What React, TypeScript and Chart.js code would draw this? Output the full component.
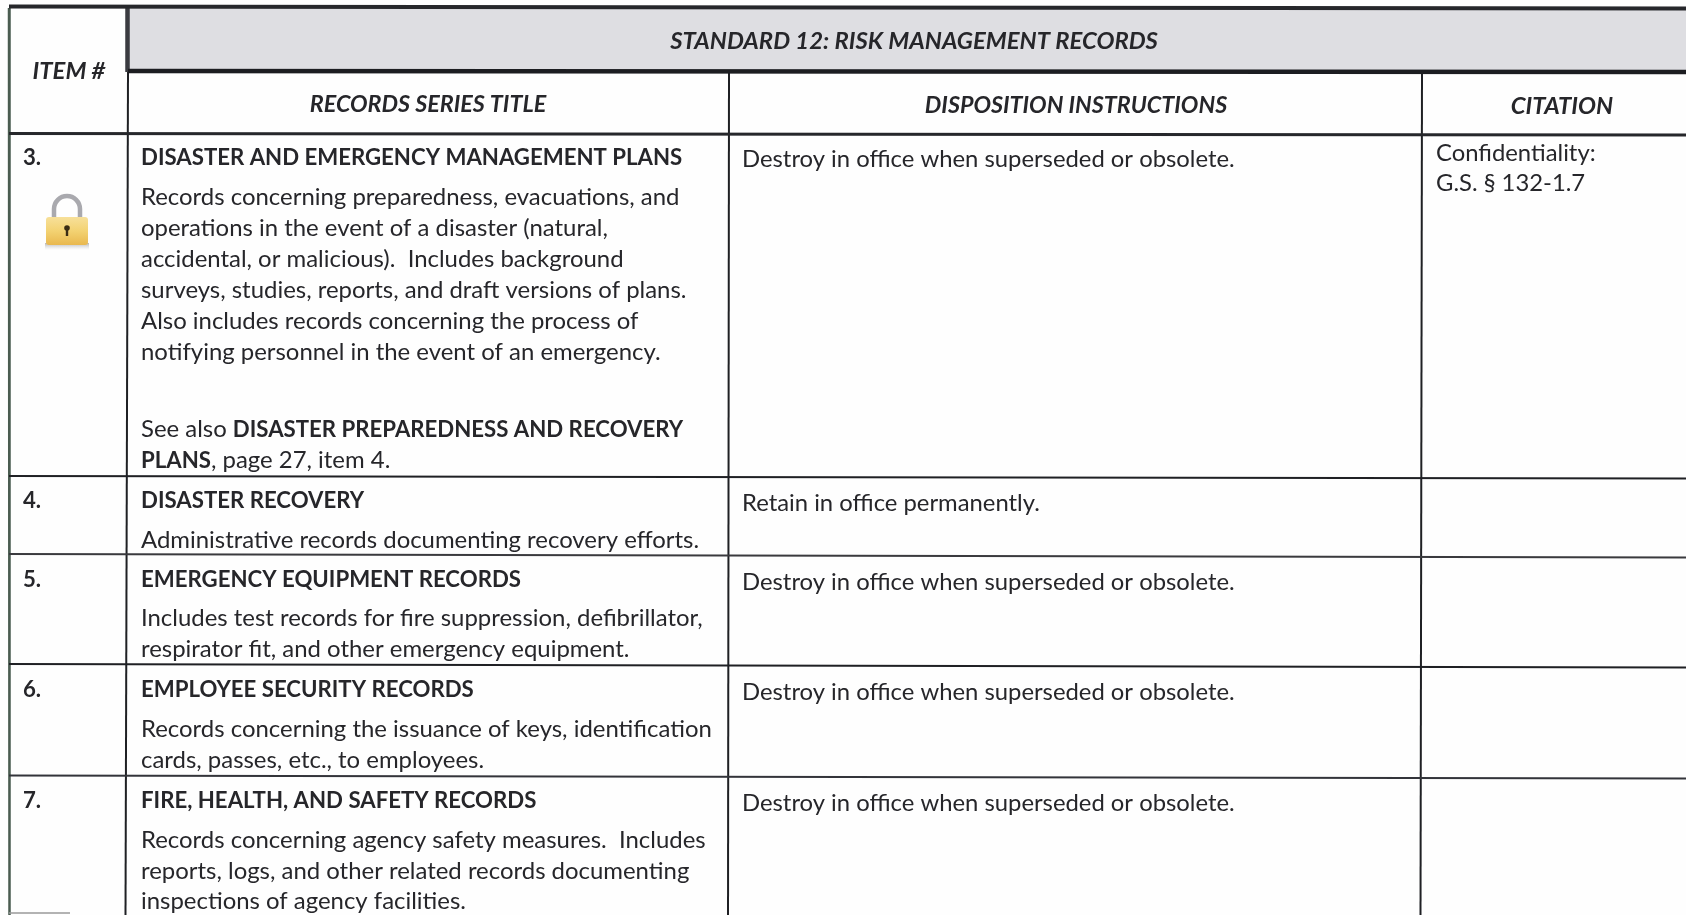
import React, { useEffect, useRef } from "react";
import { Chart, registerables } from "chart.js";

Chart.register(...registerables);

const WIDTH = 1686;
const HEIGHT = 915;

// Table text
const tableTitle = "STANDARD 12: RISK MANAGEMENT RECORDS";
const columnHeaders = ["ITEM #", "RECORDS SERIES TITLE", "DISPOSITION INSTRUCTIONS", "CITATION"];
const itemNumbers = ["3.", "4.", "5.", "6.", "7."];
const recordTitles = [
  "DISASTER AND EMERGENCY MANAGEMENT PLANS",
  "DISASTER RECOVERY",
  "EMERGENCY EQUIPMENT RECORDS",
  "EMPLOYEE SECURITY RECORDS",
  "FIRE, HEALTH, AND SAFETY RECORDS",
];
const recordBodies = [
  [
    "Records concerning preparedness, evacuations, and",
    "operations in the event of a disaster (natural,",
    "accidental, or malicious).  Includes background",
    "surveys, studies, reports, and draft versions of plans.",
    "Also includes records concerning the process of",
    "notifying personnel in the event of an emergency.",
  ],
  ["Administrative records documenting recovery efforts."],
  ["Includes test records for fire suppression, defibrillator,", "respirator fit, and other emergency equipment."],
  ["Records concerning the issuance of keys, identification", "cards, passes, etc., to employees."],
  [
    "Records concerning agency safety measures.  Includes",
    "reports, logs, and other related records documenting",
    "inspections of agency facilities.",
  ],
];
const seeAlsoRuns = [
  { text: "See also ", bold: false },
  { text: "DISASTER PREPAREDNESS AND RECOVERY", bold: true },
];
const seeAlsoRuns2 = [
  { text: "PLANS", bold: true },
  { text: ", page 27, item 4.", bold: false },
];
const dispositions = [
  "Destroy in office when superseded or obsolete.",
  "Retain in office permanently.",
  "Destroy in office when superseded or obsolete.",
  "Destroy in office when superseded or obsolete.",
  "Destroy in office when superseded or obsolete.",
];
const citationLines = ["Confidentiality:", "G.S. § 132-1.7"];

// Table geometry, in the chart's own scale units
const titleBaselines = [165, 508, 587, 697, 808];
const bodyBaselines = [
  [205, 236, 267, 298, 329, 360],
  [548],
  [626, 657],
  [737, 768],
  [848, 879, 909],
];
const seeAlsoBaselines = [437, 468];
const dispositionBaselines = [167, 511, 590, 700, 811];
const citationBaselines = [161, 191];

const ruleColor = "#1f2024";
type Rule = { x: [number, number]; y: [number, number]; w: number; c: string };
const rules: Rule[] = [
  { x: [9, 1686], y: [6.5, 8.5], w: 4, c: "#26272b" },
  { x: [128, 1686], y: [71, 72], w: 4.5, c: "#1c1d21" },
  { x: [9, 1686], y: [133.5, 135], w: 3, c: "#26272b" },
  { x: [9, 1686], y: [476, 478.5], w: 2, c: ruleColor },
  { x: [9, 1686], y: [554, 557.5], w: 2, c: "#3a3a3e" },
  { x: [9, 1686], y: [664, 667.5], w: 2, c: ruleColor },
  { x: [9, 1686], y: [775.5, 778.5], w: 2, c: "#33343a" },
  { x: [9, 70], y: [913, 913], w: 1.5, c: "#9a9a9a" },
  { x: [9, 9.5], y: [8, 915], w: 2.5, c: "#4a5c50" },
  { x: [127.5, 127.5], y: [8, 72], w: 4.5, c: "#3a3b40" },
  { x: [128, 125.5], y: [72, 915], w: 2, c: ruleColor },
  { x: [729, 728], y: [72, 915], w: 2, c: ruleColor },
  { x: [1422, 1420.5], y: [72, 915], w: 2, c: ruleColor },
];

const FAMILY = "Lato";
const BODY_SIZE = 23;
const INK = "#26262a";
const STRETCH_BODY = 1.04;
const STRETCH_RIGHT = 1.036;
const STRETCH_BOLD = 0.965;
const STRETCH_HEAD = 1.038;
const STRETCH_HEAD_NARROW = 1.014;

function drawLine(ctx: CanvasRenderingContext2D, text: string, x: number, y: number, font: string, stretch: number, align: CanvasTextAlign = "left") {
  ctx.save();
  ctx.translate(x, y);
  ctx.scale(stretch, 1);
  ctx.font = font;
  ctx.textAlign = align;
  ctx.textBaseline = "alphabetic";
  ctx.fillStyle = INK;
  ctx.fillText(text, 0, 0);
  ctx.restore();
}

function drawRuns(ctx: CanvasRenderingContext2D, runs: { text: string; bold: boolean }[], x: number, y: number) {
  let cursor = x;
  for (const run of runs) {
    const font = `${run.bold ? "bold " : ""}${BODY_SIZE}px ${FAMILY}`;
    const stretch = run.bold ? STRETCH_BOLD : STRETCH_BODY;
    drawLine(ctx, run.text, cursor, y, font, stretch);
    ctx.font = font;
    cursor += ctx.measureText(run.text).width * stretch;
  }
}

function drawLock(ctx: CanvasRenderingContext2D, X: (v: number) => number, Y: (v: number) => number) {
  const cx = X(67);
  ctx.save();
  const sh = ctx.createLinearGradient(0, Y(243), 0, Y(250));
  sh.addColorStop(0, "rgba(150,150,150,0.7)");
  sh.addColorStop(1, "rgba(200,200,200,0)");
  ctx.fillStyle = sh;
  ctx.fillRect(X(45), Y(243), 44, 7);
  ctx.strokeStyle = "#a9a9ae";
  ctx.lineWidth = 4.5;
  ctx.beginPath();
  ctx.moveTo(cx - 13, Y(220));
  ctx.lineTo(cx - 13, Y(209));
  ctx.arc(cx, Y(209), 13, Math.PI, 0);
  ctx.lineTo(cx + 13, Y(220));
  ctx.stroke();
  const g = ctx.createLinearGradient(0, Y(217), 0, Y(245));
  g.addColorStop(0, "#f7e09a");
  g.addColorStop(0.5, "#f3d272");
  g.addColorStop(1, "#e9b84e");
  ctx.fillStyle = g;
  ctx.beginPath();
  ctx.roundRect(X(46), Y(217), 42, 28, 3);
  ctx.fill();
  ctx.fillStyle = "#3a2c14";
  ctx.beginPath();
  ctx.arc(cx, Y(228), 2.8, 0, Math.PI * 2);
  ctx.fill();
  ctx.fillRect(cx - 1.2, Y(229), 2.4, 7);
  ctx.restore();
}

const tablePlugin = {
  id: "recordsTable",
  beforeDatasetsDraw(chart: Chart) {
    const { ctx } = chart;
    const X = (v: number) => chart.scales.x.getPixelForValue(v);
    const Y = (v: number) => chart.scales.y.getPixelForValue(v);
    ctx.save();
    ctx.fillStyle = "#fefefe";
    ctx.fillRect(X(0), Y(0), WIDTH, HEIGHT);
    ctx.fillStyle = "#dedee2";
    ctx.fillRect(X(128), Y(8), WIDTH - 128, 63);
    ctx.restore();
  },
  afterDatasetsDraw(chart: Chart) {
    const { ctx } = chart;
    const X = (v: number) => chart.scales.x.getPixelForValue(v);
    const Y = (v: number) => chart.scales.y.getPixelForValue(v);
    const headFont = `italic bold ${BODY_SIZE}px ${FAMILY}`;
    const boldFont = `bold ${BODY_SIZE}px ${FAMILY}`;
    const bodyFont = `${BODY_SIZE}px ${FAMILY}`;

    drawLine(ctx, tableTitle, X(914), Y(49), headFont, STRETCH_HEAD, "center");
    drawLine(ctx, columnHeaders[0], X(69), Y(79), headFont, STRETCH_HEAD, "center");
    drawLine(ctx, columnHeaders[1], X(428), Y(112), headFont, STRETCH_HEAD_NARROW, "center");
    drawLine(ctx, columnHeaders[2], X(1076), Y(113), headFont, STRETCH_HEAD_NARROW, "center");
    drawLine(ctx, columnHeaders[3], X(1562), Y(114), headFont, STRETCH_HEAD, "center");

    itemNumbers.forEach((n, i) => drawLine(ctx, n, X(23), Y(titleBaselines[i]), boldFont, STRETCH_BOLD));
    recordTitles.forEach((t, i) => drawLine(ctx, t, X(141), Y(titleBaselines[i]), boldFont, STRETCH_BOLD));
    recordBodies.forEach((lines, i) =>
      lines.forEach((l, j) => drawLine(ctx, l, X(141), Y(bodyBaselines[i][j]), bodyFont, STRETCH_BODY))
    );
    drawRuns(ctx, seeAlsoRuns, X(141), Y(seeAlsoBaselines[0]));
    drawRuns(ctx, seeAlsoRuns2, X(141), Y(seeAlsoBaselines[1]));
    dispositions.forEach((t, i) => drawLine(ctx, t, X(742), Y(dispositionBaselines[i]), bodyFont, STRETCH_RIGHT));
    citationLines.forEach((t, i) => drawLine(ctx, t, X(1436), Y(citationBaselines[i]), bodyFont, STRETCH_RIGHT));
    drawLock(ctx, X, Y);
  },
};

export default function App() {
  const ref = useRef<HTMLCanvasElement>(null);
  useEffect(() => {
    if (!ref.current) return;
    const chart = new Chart(ref.current, {
      type: "line",
      data: {
        datasets: rules.map((r) => ({
          data: [
            { x: r.x[0], y: r.y[0] },
            { x: r.x[1], y: r.y[1] },
          ],
          borderColor: r.c,
          borderWidth: r.w,
          pointRadius: 0,
          fill: false,
          tension: 0,
          clip: false,
        })),
      },
      options: {
        animation: false,
        responsive: false,
        events: [],
        layout: { padding: 0 },
        plugins: { legend: { display: false }, title: { display: false }, tooltip: { enabled: false } },
        scales: {
          x: { type: "linear", min: 0, max: WIDTH, display: false },
          y: { type: "linear", min: 0, max: HEIGHT, reverse: true, display: false },
        },
      },
      plugins: [tablePlugin],
    });
    return () => chart.destroy();
  }, []);
  return (
    <div style={{ position: "fixed", left: 0, top: 0, width: WIDTH, height: HEIGHT, overflow: "hidden" }}>
      <canvas ref={ref} width={WIDTH} height={HEIGHT} style={{ display: "block" }} />
    </div>
  );
}
